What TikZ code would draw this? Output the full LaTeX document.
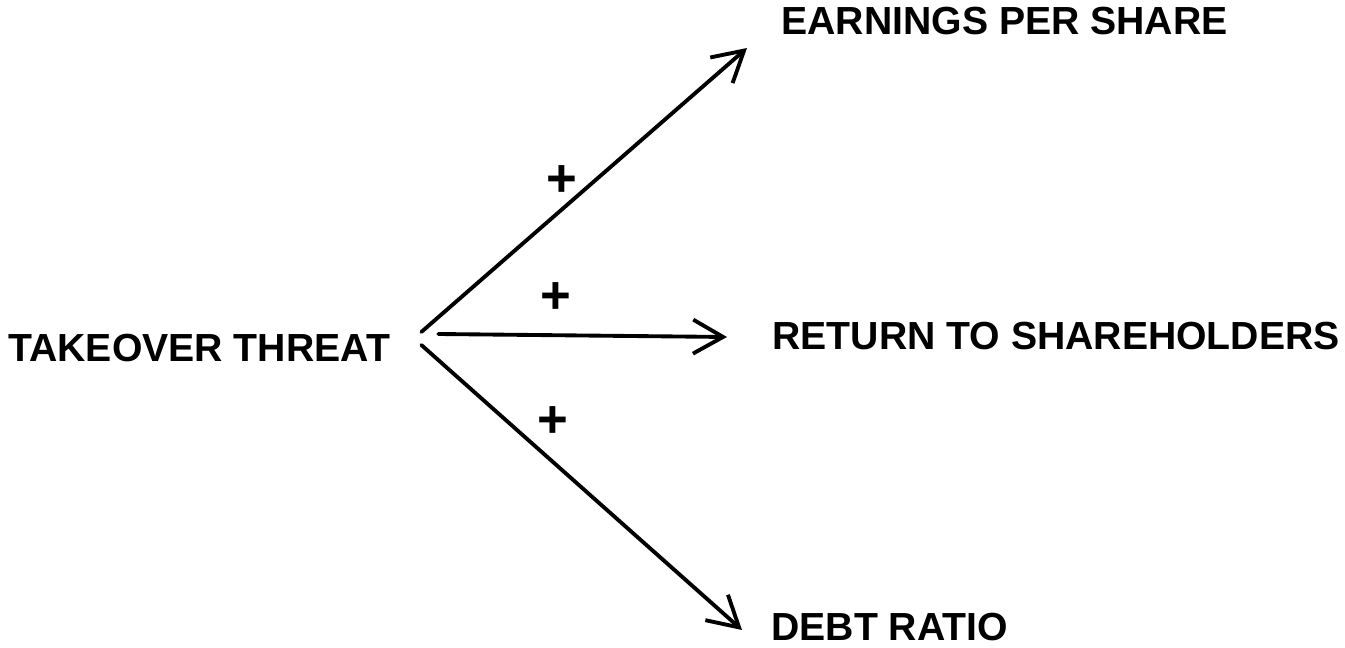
\documentclass[tikz,border=0pt]{standalone}
\usepackage{fontspec}
\setmainfont{Liberation Sans}
\usetikzlibrary{arrows.meta,positioning,calc}
\tikzset{
  lbl/.style={font=\fontsize{22.3}{26}\selectfont\bfseries, inner sep=0pt, anchor=west},
  sgn/.style={font=\fontsize{30}{32}\selectfont\bfseries, inner sep=0pt},
  link/.style={-{Straight Barb[length=6mm, width=6.8mm]}, line width=2.2pt, line cap=round},
}
\begin{document}
\begin{tikzpicture}[x=0.02cm, y=-0.02cm]
    \useasboundingbox (0,0) rectangle (1345,648);
    \node[lbl] (threat) at (8,348) {TAKEOVER THREAT};
    \node[lbl] (eps) at (781,21) {EARNINGS PER SHARE};
    \node[lbl] (rts) at (772,336) {RETURN TO SHAREHOLDERS};
    \node[lbl] (debt) at (771,627) {DEBT RATIO};
    % influence links
    \draw[link] ($(threat.east)+(31,-16)$) -- ($(eps.west)+(-34,27)$);
    \draw[link] ($(threat.east)+(48,-14)$) -- ($(rts.west)+(-45,1)$);
    \draw[link] ($(threat.east)+(31,-3)$) -- ($(debt.west)+(-29,3)$);
    \node[sgn] (pluseps) at (562,181) {+};
    \node[sgn] (plusrts) at (556,298) {+};
    \node[sgn] (plusdebt) at (553,422) {+};
  \end{tikzpicture}
\end{document}
